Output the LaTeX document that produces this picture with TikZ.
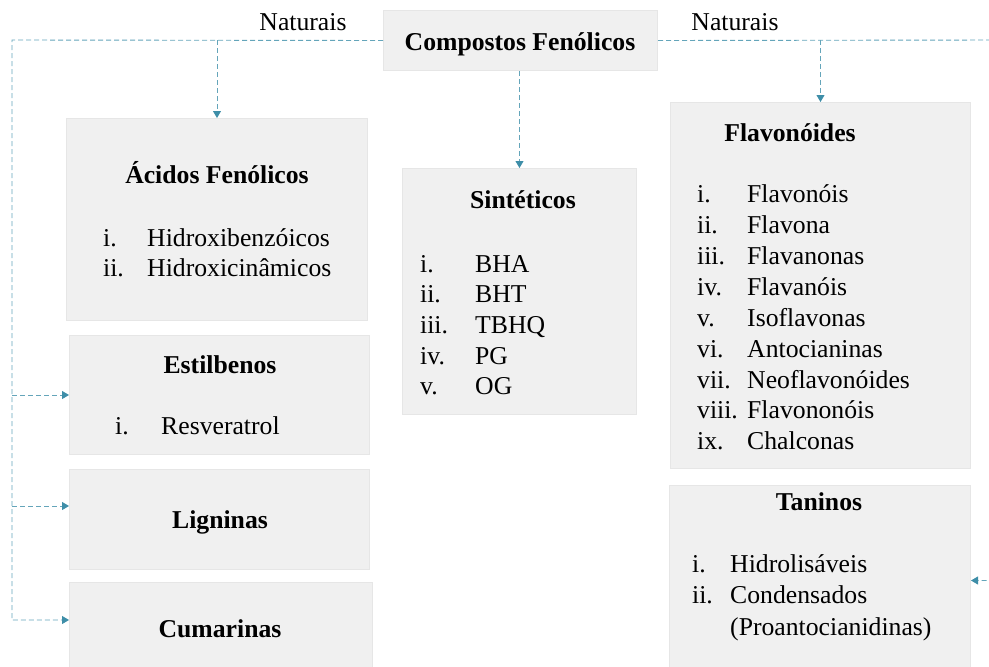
\documentclass[tikz,border=0pt]{standalone}
\usepackage{fontspec}
\setmainfont{Liberation Serif}
\usetikzlibrary{arrows.meta,calc}
\definecolor{boxfill}{RGB}{240,240,240}
\definecolor{boxedge}{RGB}{230,230,230}
\definecolor{connc}{RGB}{100,165,186}
\definecolor{tipc}{RGB}{62,142,168}
\begin{document}
\begin{tikzpicture}[x=1pt,y=-1pt,
  box/.style={fill=boxfill,draw=boxedge,line width=1pt,inner sep=0pt,anchor=north west},
  head/.style={font=\fontsize{25.7}{30}\selectfont\bfseries,anchor=base,inner sep=0pt},
  txt/.style={font=\fontsize{25.7}{30}\selectfont,anchor=base west,inner sep=0pt},
  conn/.style={draw=connc,line width=0.9pt,dash pattern=on 5pt off 3pt},
  tipped/.style={conn,-{Triangle[width=8pt,length=7pt,fill=tipc,color=tipc]}}
]
\useasboundingbox (0,0) rectangle (989,667);
\clip (0,0) rectangle (989,667);

% boxes
\node[box,minimum width=274pt,minimum height=60pt] (comp) at (383,10) {};
\node[box,minimum width=301pt,minimum height=202pt] (acid) at (66,118) {};
\node[box,minimum width=300pt,minimum height=119pt] (est) at (69,335) {};
\node[box,minimum width=300pt,minimum height=100pt] (lig) at (69,469) {};
\node[box,minimum width=303pt,minimum height=90pt] (cum) at (69,582) {};
\node[box,minimum width=234pt,minimum height=246pt] (sint) at (402,168) {};
\node[box,minimum width=300pt,minimum height=366pt] (flav) at (670,102) {};
\node[box,minimum width=301pt,minimum height=190pt] (tan) at (669,485) {};

% connector points
\coordinate (tl) at (12,40);
\coordinate (tr) at (1000,40);
\coordinate (ligp) at ($(lig.north west)+(0,37)$);
\coordinate (cump) at ($(cum.north west)+(0,38)$);

% connectors
\draw[tipped] (comp.west) -- (tl) |- (cump);
\draw[tipped] (tl |- est.west) -- (est.west);
\draw[tipped] (tl |- ligp) -- (ligp);
\draw[tipped] (acid.north |- tl) -- (acid.north);
\draw[tipped] (sint.north |- comp.south) -- (sint.north);
\draw[tipped] (comp.east) -- (tr) |- (tan.east);
\draw[tipped] (flav.north |- tr) -- (flav.north);

% labels
\node[txt,anchor=base] (natL) at (303,30) {Naturais};
\node[txt,anchor=base] (natR) at (735,30) {Naturais};
\node[head] (compt) at (520,50) {Compostos Fenólicos};

% Acidos
\node[head] (acidt) at (217,183) {Ácidos Fenólicos};
\node[txt] (acid1n) at (103,246) {i.};
\node[txt] (acid1) at (147,246) {Hidroxibenzóicos};
\node[txt] (acid2n) at (103,276) {ii.};
\node[txt] (acid2) at (147,276) {Hidroxicinâmicos};

% Estilbenos
\node[head] (estt) at (220,373) {Estilbenos};
\node[txt] (est1n) at (115,434) {i.};
\node[txt] (est1) at (161,434) {Resveratrol};

% Ligninas, Cumarinas
\node[head] (ligt) at (220,528) {Ligninas};
\node[head] (cumt) at (220,637) {Cumarinas};

% Sinteticos
\node[head] (sintt) at (523,208) {Sintéticos};
\foreach \n/\r/\t/\y in {1/i./BHA/272, 2/ii./BHT/302, 3/iii./TBHQ/333, 4/iv./PG/364, 5/v./OG/394}{
  \node[txt] (sint\n n) at (420,\y) {\r};
  \node[txt] (sint\n) at (475,\y) {\t};
}

% Flavonoides
\node[head] (flavt) at (790,141) {Flavonóides};
\foreach \n/\r/\t/\y in {1/i./Flavonóis/202, 2/ii./Flavona/233, 3/iii./Flavanonas/264, 4/iv./Flavanóis/295, 5/v./Isoflavonas/326, 6/vi./Antocianinas/357, 7/vii./Neoflavonóides/388, 8/viii./Flavononóis/418, 9/ix./Chalconas/449}{
  \node[txt] (flav\n n) at (697,\y) {\r};
  \node[txt] (flav\n) at (747,\y) {\t};
}

% Taninos
\node[head] (tant) at (819,510) {Taninos};
\node[txt] (tan1n) at (692,572) {i.};
\node[txt] (tan1) at (730,572) {Hidrolisáveis};
\node[txt] (tan2n) at (692,603) {ii.};
\node[txt] (tan2) at (730,603) {Condensados};
\node[txt] (tan3) at (730,635) {(Proantocianidinas)};
\end{tikzpicture}
\end{document}
